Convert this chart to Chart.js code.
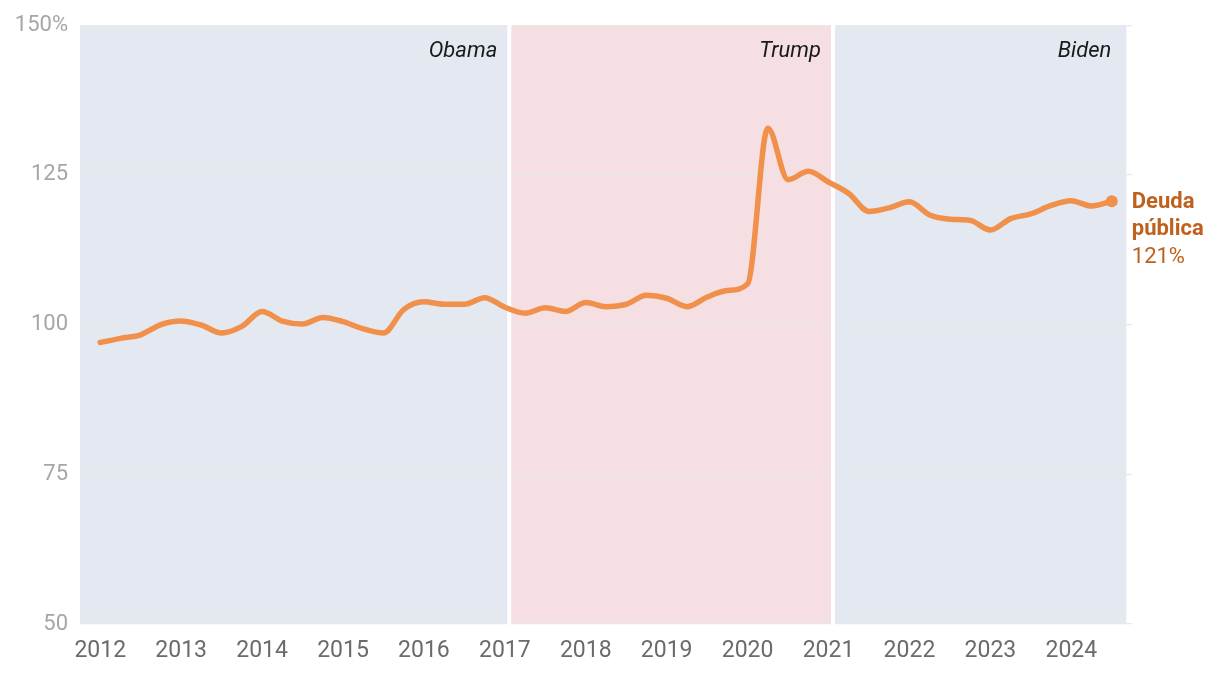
<!DOCTYPE html>
<html>
<head>
<meta charset="utf-8">
<script src="https://cdn.jsdelivr.net/npm/chart.js@4"></script>
<style>
  html, body { margin: 0; padding: 0; background: #fff; }
  #wrap { width: 1220px; height: 674px; }
</style>
</head>
<body>
<div id="wrap"><canvas id="debtChart" width="1220" height="674"></canvas></div>
<script>
// Quarterly data (decimal years) and debt as % of GDP
const quarters = [
  2012.00, 2012.25, 2012.50, 2012.75, 2013.00, 2013.25, 2013.50, 2013.75,
  2014.00, 2014.25, 2014.50, 2014.75, 2015.00, 2015.25, 2015.50, 2015.75,
  2016.00, 2016.25, 2016.50, 2016.75, 2017.00, 2017.25, 2017.50, 2017.75,
  2018.00, 2018.25, 2018.50, 2018.75, 2019.00, 2019.25, 2019.50, 2019.75,
  2020.00, 2020.25, 2020.50, 2020.75, 2021.00, 2021.25, 2021.50, 2021.75,
  2022.00, 2022.25, 2022.50, 2022.75, 2023.00, 2023.25, 2023.50, 2023.75,
  2024.00, 2024.25, 2024.50
];
const debt = [
  97.0, 97.7, 98.3, 100.0, 100.6, 99.9, 98.6, 99.7,
  102.2, 100.6, 100.1, 101.2, 100.5, 99.3, 98.6, 102.5,
  103.8, 103.4, 103.4, 104.5, 102.9, 101.9, 102.8, 102.2,
  103.7, 103.0, 103.4, 104.9, 104.4, 103.0, 104.6, 105.7,
  106.8, 132.8, 124.2, 125.6, 123.8, 121.9, 118.9, 119.5,
  120.5, 118.3, 117.6, 117.4, 115.8, 117.7, 118.5, 119.9,
  120.7, 119.8, 120.6
];

// Presidential terms (shaded bands)
const periodNames = ['Obama', 'Trump', 'Biden'];
const periodStarts = [2011.75, 2017.055, 2021.055];
const periodEnds = [2017.055, 2021.055, 2024.68];
const periodColors = ['#e4e8f0', '#f5dfe3', '#e4e8f0'];

// Axis ticks
const yearTicks = [2012, 2013, 2014, 2015, 2016, 2017, 2018, 2019, 2020, 2021, 2022, 2023, 2024];
const yTicks = [50, 75, 100, 125, 150];

const seriesName = ['Deuda', 'pública'];
const lineColor = '#f0904a';
const labelColor = '#c0601e';
const FONT = 'Roboto, "Open Sans", sans-serif';

// Background bands + period labels
const bandsPlugin = {
    id: 'bands',
    beforeDraw(chart) {
        const { ctx, chartArea, scales } = chart;
        const x = scales.x;
        ctx.save();
        periodNames.forEach((name, i) => {
            const x0 = x.getPixelForValue(periodStarts[i]);
            const x1 = x.getPixelForValue(periodEnds[i]);
            ctx.fillStyle = periodColors[i];
            ctx.fillRect(x0, chartArea.top, x1 - x0, chartArea.bottom - chartArea.top);
        });
        ctx.restore();
    },
    beforeDatasetsDraw(chart) {
        const { ctx, chartArea, scales } = chart;
        const x = scales.x;
        ctx.save();
        // white gaps between terms
        for (let i = 1; i < periodStarts.length; i++) {
            const px = x.getPixelForValue(periodStarts[i]);
            ctx.fillStyle = '#ffffff';
            ctx.fillRect(px - 2, chartArea.top - 1, 4, chartArea.bottom - chartArea.top + 2);
        }
        ctx.font = 'italic 22px ' + FONT;
        ctx.fillStyle = '#1a1a1a';
        ctx.textAlign = 'right';
        ctx.textBaseline = 'middle';
        periodNames.forEach((name, i) => {
            const x1 = x.getPixelForValue(periodEnds[i]);
            const pad = i === periodNames.length - 1 ? 15 : 12;
            ctx.fillText(name, x1 - pad, chartArea.top + 26);
        });
        ctx.restore();
    },
    afterDatasetsDraw(chart) {
        const { ctx } = chart;
        const meta = chart.getDatasetMeta(0);
        const last = meta.data[meta.data.length - 1];
        const val = debt[debt.length - 1];
        ctx.save();
        ctx.fillStyle = labelColor;
        ctx.textAlign = 'left';
        ctx.textBaseline = 'middle';
        ctx.font = 'bold 22px ' + FONT;
        ctx.fillText(seriesName[0], last.x + 20, last.y + 1);
        ctx.fillText(seriesName[1], last.x + 20, last.y + 28.5);
        ctx.font = '22px ' + FONT;
        ctx.fillText(Math.round(val) + '%', last.x + 20, last.y + 56);
        ctx.restore();
    }
};

new Chart(document.getElementById('debtChart'), {
    type: 'line',
    data: {
        datasets: [{
            label: 'Deuda pública',
            data: quarters.map((q, i) => ({ x: q, y: debt[i] })),
            borderColor: lineColor,
            backgroundColor: lineColor,
            borderWidth: 5.5,
            cubicInterpolationMode: 'monotone',
            borderCapStyle: 'round',
            borderJoinStyle: 'round',
            pointRadius: ctx => ctx.dataIndex === debt.length - 1 ? 6 : 0,
            pointHoverRadius: 0,
            pointBorderWidth: 0
        }]
    },
    options: {
        responsive: false,
        animation: false,
        layout: { padding: { top: 24, right: 88, left: 0, bottom: 0 } },
        plugins: {
            legend: { display: false },
            tooltip: { enabled: false }
        },
        scales: {
            x: {
                type: 'linear',
                min: 2011.75,
                max: 2024.75,
                afterBuildTicks: axis => { axis.ticks = yearTicks.map(v => ({ value: v })); },
                afterFit: axis => { axis.height = 50; },
                grid: { display: false, drawTicks: false },
                border: { display: false },
                ticks: {
                    color: '#6b6b6b',
                    font: { family: FONT, size: 23 },
                    padding: 13,
                    maxRotation: 0,
                    autoSkip: false,
                    callback: v => String(v)
                }
            },
            y: {
                min: 50,
                max: 150,
                afterBuildTicks: axis => { axis.ticks = yTicks.map(v => ({ value: v })); },
                afterFit: axis => { axis.width = 80; },
                grid: { color: '#e8e8e8', lineWidth: 1.2, drawTicks: false },
                border: { display: false },
                ticks: {
                    color: '#a6a6a6',
                    font: { family: FONT, size: 22 },
                    padding: 12,
                    callback: v => v === 150 ? v + '%' : String(v)
                }
            }
        }
    },
    plugins: [bandsPlugin]
});
</script>
</body>
</html>
